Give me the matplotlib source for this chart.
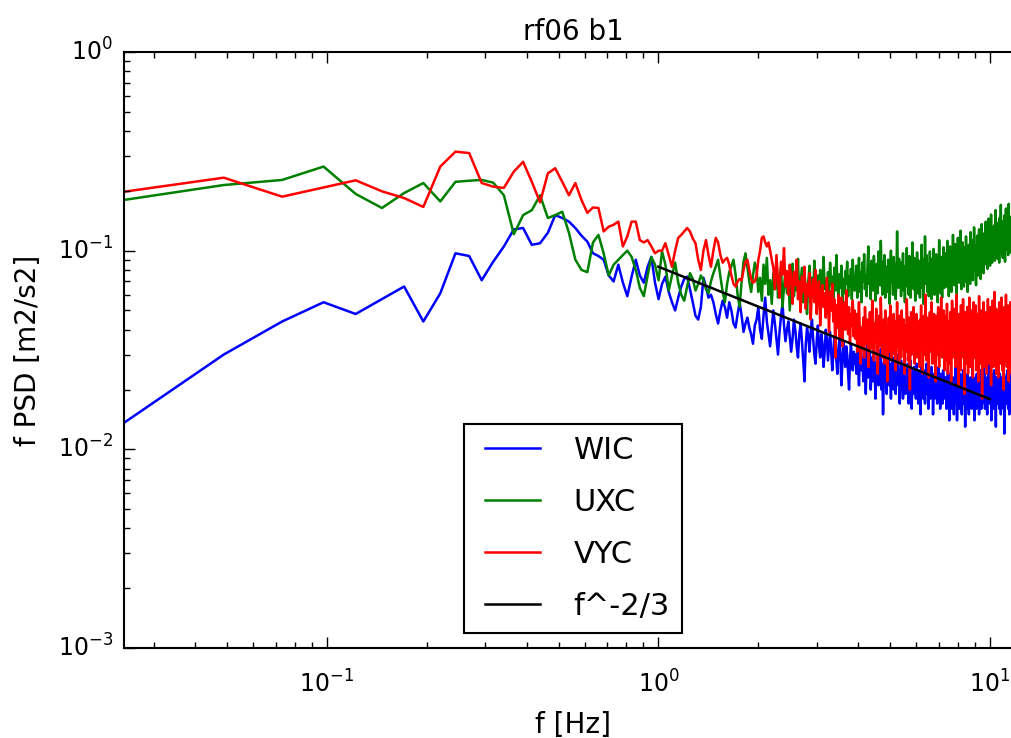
import numpy as np
import matplotlib
matplotlib.use("Agg")
import matplotlib.pyplot as plt

# PSD bins: fs = 25 Hz, nfft = 1024 -> df = 0.0244 Hz
fs = 25.0
nfft = 1024

# f*PSD values, in units of 1e-3 m2/s2, one value per bin (k = 1, 2, ...)
wic = [
    # k 1-41
    13.6, 30, 44, 55, 48, 57, 66, 44, 61, 97, 94, 71, 88, 105, 128, 130, 107, 109, 123, 151,
    146, 140, 130, 119, 111, 97, 94, 90, 75, 70, 85, 69, 59, 74, 90, 75, 69, 83, 93, 69, 57,
    # k 42-80
    68, 74, 62, 55, 50, 58, 66, 72, 74,
    64, 55, 47, 45, 52, 73, 66, 58, 60, 55,
    48, 43, 50, 56, 52, 46, 55, 50, 43, 41,
    48, 55, 47, 39, 43, 46, 41, 38, 34, 42,
    # k 81-160
    45, 52, 40, 36, 47, 58, 44, 38, 33, 41,
    50, 43, 36, 30, 39, 47, 54, 42, 35, 40,
    44, 37, 31, 36, 45, 40, 33, 29, 38, 43,
    35, 28, 22, 34, 41, 37, 31, 39, 45, 36,
    30, 27, 35, 42, 33, 29, 38, 34, 26, 31,
    40, 36, 28, 33, 39, 31, 25, 30, 37, 34,
    28, 24, 32, 36, 29, 21, 27, 35, 31, 26,
    33, 30, 24, 20, 28, 34, 29, 25, 31, 27,
    # k 161-300
    30, 24, 33, 27, 21, 31, 35, 25, 29, 22,
    32, 26, 19, 28, 34, 23, 27, 31, 20, 25,
    29, 22, 33, 26, 18, 27, 24, 30, 21, 28,
    25, 32, 20, 27, 15, 23, 29, 22, 26, 19,
    28, 24, 31, 21, 25, 18, 27, 23, 29, 20,
    26, 22, 19, 27, 24, 30, 21, 25, 17, 23,
    28, 20, 24, 18, 26, 22, 29, 19, 25, 21,
    23, 27, 17, 24, 20, 28, 22, 16, 25, 21,
    19, 26, 22, 24, 18, 27, 21, 23, 17, 25,
    20, 24, 15, 22, 26, 19, 23, 18, 25, 21,
    17, 24, 20, 27, 19, 22, 16, 23, 21, 25,
    18, 22, 26, 19, 23, 15, 21, 24, 18, 22,
    25, 19, 21, 17, 23, 20, 26, 18, 22, 16,
    21, 24, 19, 22, 17, 25, 20, 18, 23, 21,
    # k 301-480
    19, 23, 16, 21, 18, 25, 17, 20, 14, 22,
    18, 24, 19, 16, 21, 17, 23, 20, 15, 19,
    22, 18, 26, 17, 20, 14, 19, 23, 18, 21,
    16, 20, 24, 19, 17, 22, 15, 21, 18, 25,
    20, 17, 23, 19, 13, 18, 22, 16, 21, 19,
    24, 18, 20, 15, 22, 19, 17, 23, 18, 21,
    16, 20, 27, 19, 22, 17, 21, 14, 19, 23,
    18, 21, 16, 24, 20, 18, 22, 17, 19, 15,
    21, 19, 25, 18, 22, 16, 20, 23, 17, 19,
    28, 22, 18, 24, 20, 16, 19, 23, 17, 21,
    19, 15, 22, 18, 26, 20, 17, 29, 21, 18,
    23, 17, 20, 14, 19, 22, 18, 24, 20, 16,
    21, 25, 19, 17, 22, 18, 13, 20, 23, 19,
    17, 22, 20, 26, 18, 21, 16, 19, 24, 18,
    20, 15, 21, 18, 23, 19, 17, 22, 20, 16,
    19, 24, 12, 18, 21, 17, 20, 23, 19, 22,
    17, 20, 25, 18, 16, 21, 19, 23, 15, 20,
    22, 18, 21, 17, 24, 19, 16, 20, 23, 18,
]

uxc = [
    # k 1-41
    180, 214, 227, 265, 193, 164, 195, 219, 177, 222, 225, 227, 220, 190, 121, 151, 160, 190, 146, 151,
    157, 123, 90, 80, 78, 110, 120, 97, 75, 85, 90, 95, 100, 93, 80, 65, 59, 75, 93, 85, 71,
    # k 42-80
    99, 85, 63, 75, 87, 69, 60, 56, 66,
    77, 72, 63, 68, 75, 71, 64, 61, 70, 77,
    83, 90, 74, 62, 55, 68, 78, 84, 90, 76,
    60, 52, 70, 88, 97, 82, 70, 62, 75, 87,
    # k 81-160
    80, 62, 73, 56, 85, 68, 92, 60, 71, 54,
    77, 64, 88, 58, 70, 83, 52, 66, 79, 61,
    74, 50, 69, 86, 59, 72, 63, 91, 57, 68,
    82, 55, 76, 65, 48, 70, 84, 61, 73, 58,
    89, 66, 53, 75, 62, 80, 57, 69, 93, 64,
    71, 51, 78, 60, 87, 67, 74, 56, 82, 63,
    95, 70, 58, 76, 65, 84, 54, 72, 61, 79,
    68, 88, 59, 74, 66, 81, 57, 90, 70, 63,
    # k 161-300
    66, 84, 58, 73, 92, 62, 78, 55, 87, 70,
    96, 64, 75, 59, 82, 105, 68, 77, 57, 89,
    72, 63, 94, 80, 56, 71, 86, 61, 99, 74,
    67, 112, 79, 60, 88, 70, 95, 58, 76, 83,
    62, 90, 73, 54, 81, 100, 69, 78, 60, 93,
    71, 85, 57, 74, 125, 82, 65, 91, 70, 79,
    59, 87, 68, 97, 63, 76, 55, 84, 72, 103,
    66, 80, 60, 94, 75, 58, 88, 69, 110, 77,
    64, 92, 71, 56, 85, 67, 98, 73, 61, 89,
    76, 58, 83, 70, 107, 65, 79, 54, 90, 72,
    118, 81, 68, 95, 62, 77, 86, 59, 74, 99,
    69, 84, 57, 91, 73, 64, 102, 78, 60, 87,
    71, 96, 63, 80, 55, 88, 75, 113, 67, 82,
    61, 93, 72, 58, 86, 70, 104, 76, 65, 90,
    # k 301-480
    78, 97, 66, 88, 112, 72, 83, 59, 94, 79,
    105, 70, 86, 62, 99, 81, 120, 74, 90, 67,
    84, 108, 75, 95, 61, 88, 72, 116, 82, 100,
    69, 92, 78, 126, 86, 64, 97, 80, 110, 73,
    89, 66, 104, 83, 95, 70, 118, 87, 76, 99,
    62, 91, 81, 107, 74, 96, 68, 124, 85, 102,
    77, 113, 90, 71, 98, 84, 131, 93, 79, 106,
    88, 67, 101, 82, 119, 94, 75, 108, 86, 128,
    97, 80, 111, 72, 103, 89, 136, 96, 83, 114,
    91, 77, 122, 99, 85, 117, 93, 140, 104, 88,
    126, 95, 81, 110, 98, 145, 107, 90, 120, 84,
    112, 100, 152, 94, 118, 87, 131, 105, 92, 124,
    98, 134, 110, 89, 121, 160, 102, 115, 95, 128,
    106, 91, 138, 113, 99, 125, 87, 146, 108, 119,
    132, 170, 116, 97, 141, 104, 123, 92, 135, 111,
    99, 127, 150, 109, 88, 132, 118, 163, 105, 126,
    114, 142, 101, 130, 95, 121, 172, 110, 137, 103,
    125, 98, 148, 116, 106, 139, 120, 155, 108, 131,
]

vyc = [
    # k 1-41
    198, 233, 187, 208, 226, 199, 184, 166, 265, 315, 310, 219, 210, 207, 250, 280, 222, 175, 245, 260,
    222, 190, 219, 180, 155, 165, 164, 125, 132, 135, 140, 105, 118, 140, 140, 113, 110, 113, 105, 97, 100,
    # k 42-90
    100, 109, 95, 83, 100, 116, 120, 125, 130,
    125, 115, 109, 90, 80, 100, 113, 95, 83, 100,
    116, 110, 95, 87, 90, 92, 85, 75, 68, 66,
    70, 72, 71, 80, 88, 90, 80, 72, 69, 70,
    75, 90, 100, 116, 118, 110, 105, 110, 100, 90,
    # k 91-160
    82, 64, 95, 71, 58, 88, 76, 103, 66, 79,
    60, 85, 72, 54, 78, 67, 90, 57, 70, 49,
    74, 62, 83, 51, 68, 59, 77, 45, 64, 72,
    55, 80, 48, 63, 70, 42, 58, 67, 52, 61,
    46, 73, 56, 39, 62, 50, 68, 44, 57, 29,
    53, 41, 60, 36, 49, 58, 33, 47, 55, 40,
    63, 45, 38, 52, 34, 48, 42, 56, 37, 50,
    # k 161-300
    36, 48, 31, 44, 55, 38, 27, 41, 33, 46,
    29, 52, 40, 34, 45, 26, 37, 49, 32, 42,
    56, 35, 28, 43, 38, 51, 30, 24, 39, 47,
    33, 58, 41, 29, 36, 45, 27, 50, 34, 40,
    22, 37, 46, 31, 53, 39, 28, 42, 35, 48,
    30, 44, 25, 38, 55, 33, 41, 27, 47, 36,
    29, 50, 39, 32, 45, 24, 36, 42, 31, 57,
    40, 28, 46, 34, 20, 38, 49, 30, 43, 35,
    52, 33, 27, 41, 37, 48, 29, 44, 31, 39,
    26, 45, 36, 53, 32, 40, 24, 37, 47, 30,
    42, 60, 35, 28, 46, 33, 39, 23, 41, 49,
    31, 38, 55, 34, 27, 44, 36, 48, 29, 40,
    22, 35, 47, 30, 43, 52, 33, 26, 39, 45,
    34, 58, 37, 29, 42, 31, 50, 36, 25, 41,
    # k 301-480
    33, 47, 28, 54, 38, 24, 44, 31, 40, 27,
    49, 36, 22, 42, 56, 34, 29, 45, 37, 51,
    30, 43, 26, 38, 60, 35, 28, 46, 21, 39,
    48, 32, 41, 25, 53, 37, 30, 44, 34, 57,
    29, 40, 19, 36, 49, 31, 45, 27, 38, 52,
    33, 24, 42, 35, 58, 30, 46, 26, 39, 50,
    28, 44, 36, 23, 41, 55, 32, 47, 29, 38,
    53, 34, 25, 43, 31, 48, 37, 22, 40, 59,
    35, 27, 45, 33, 50, 29, 41, 18, 36, 46,
    30, 55, 38, 26, 44, 34, 49, 28, 42, 32,
    24, 47, 37, 57, 31, 40, 27, 45, 35, 52,
    29, 43, 21, 38, 48, 33, 56, 30, 41, 26,
    46, 35, 62, 39, 28, 44, 32, 51, 24, 37,
    45, 30, 40, 23, 49, 36, 55, 31, 42, 27,
    50, 38, 33, 58, 29, 43, 25, 47, 36, 41,
    20, 39, 52, 31, 45, 28, 37, 60, 34, 44,
    26, 48, 35, 30, 53, 40, 22, 42, 33, 49,
    37, 55, 29, 45, 31, 39, 24, 47, 35, 43,
]

# f^-2/3 reference line, end points
ref_f = [1.0, 10.0]
ref_y = [0.083, 0.0179]

series = [("WIC", wic, "b"), ("UXC", uxc, "g"), ("VYC", vyc, "r")]

plt.style.use("classic")
fig = plt.figure(figsize=(10.12, 7.38), dpi=100, facecolor="white")
ax = fig.add_axes([124/1012, 90/738, 898/1012, 596/738])

df = fs / nfft
for name, vals, col in series:
    v = np.array(vals) / 1000.0
    f = np.arange(1, len(v) + 1) * df
    ax.loglog(f, v, color=col, lw=1.8, label=name)
ax.loglog(ref_f, ref_y, color="k", lw=1.8, label="f^-2/3")

ax.set_xlim(df, fs / 2)
ax.set_ylim(1e-3, 1)
ax.set_title("rf06 b1", fontsize=20, pad=9)
ax.set_xlabel("f [Hz]", fontsize=20)
ax.set_ylabel("f PSD [m2/s2]", fontsize=20)
ax.xaxis.set_label_coords(0.5, -0.105)
ax.yaxis.set_label_coords(-0.091, 0.5)
ax.tick_params(which="major", length=8, width=1, labelsize=17)
ax.tick_params(axis="x", which="major", pad=16)
ax.tick_params(axis="y", which="major", pad=8)
ax.tick_params(which="minor", length=4, width=1)
for sp in ax.spines.values():
    sp.set_linewidth(1.5)

leg = ax.legend(loc="lower center", fontsize=22, borderaxespad=0.5,
                handlelength=2.4, labelspacing=0.75)
leg.get_frame().set_linewidth(1.5)

fig.savefig("out.png", dpi=100, facecolor="white")
